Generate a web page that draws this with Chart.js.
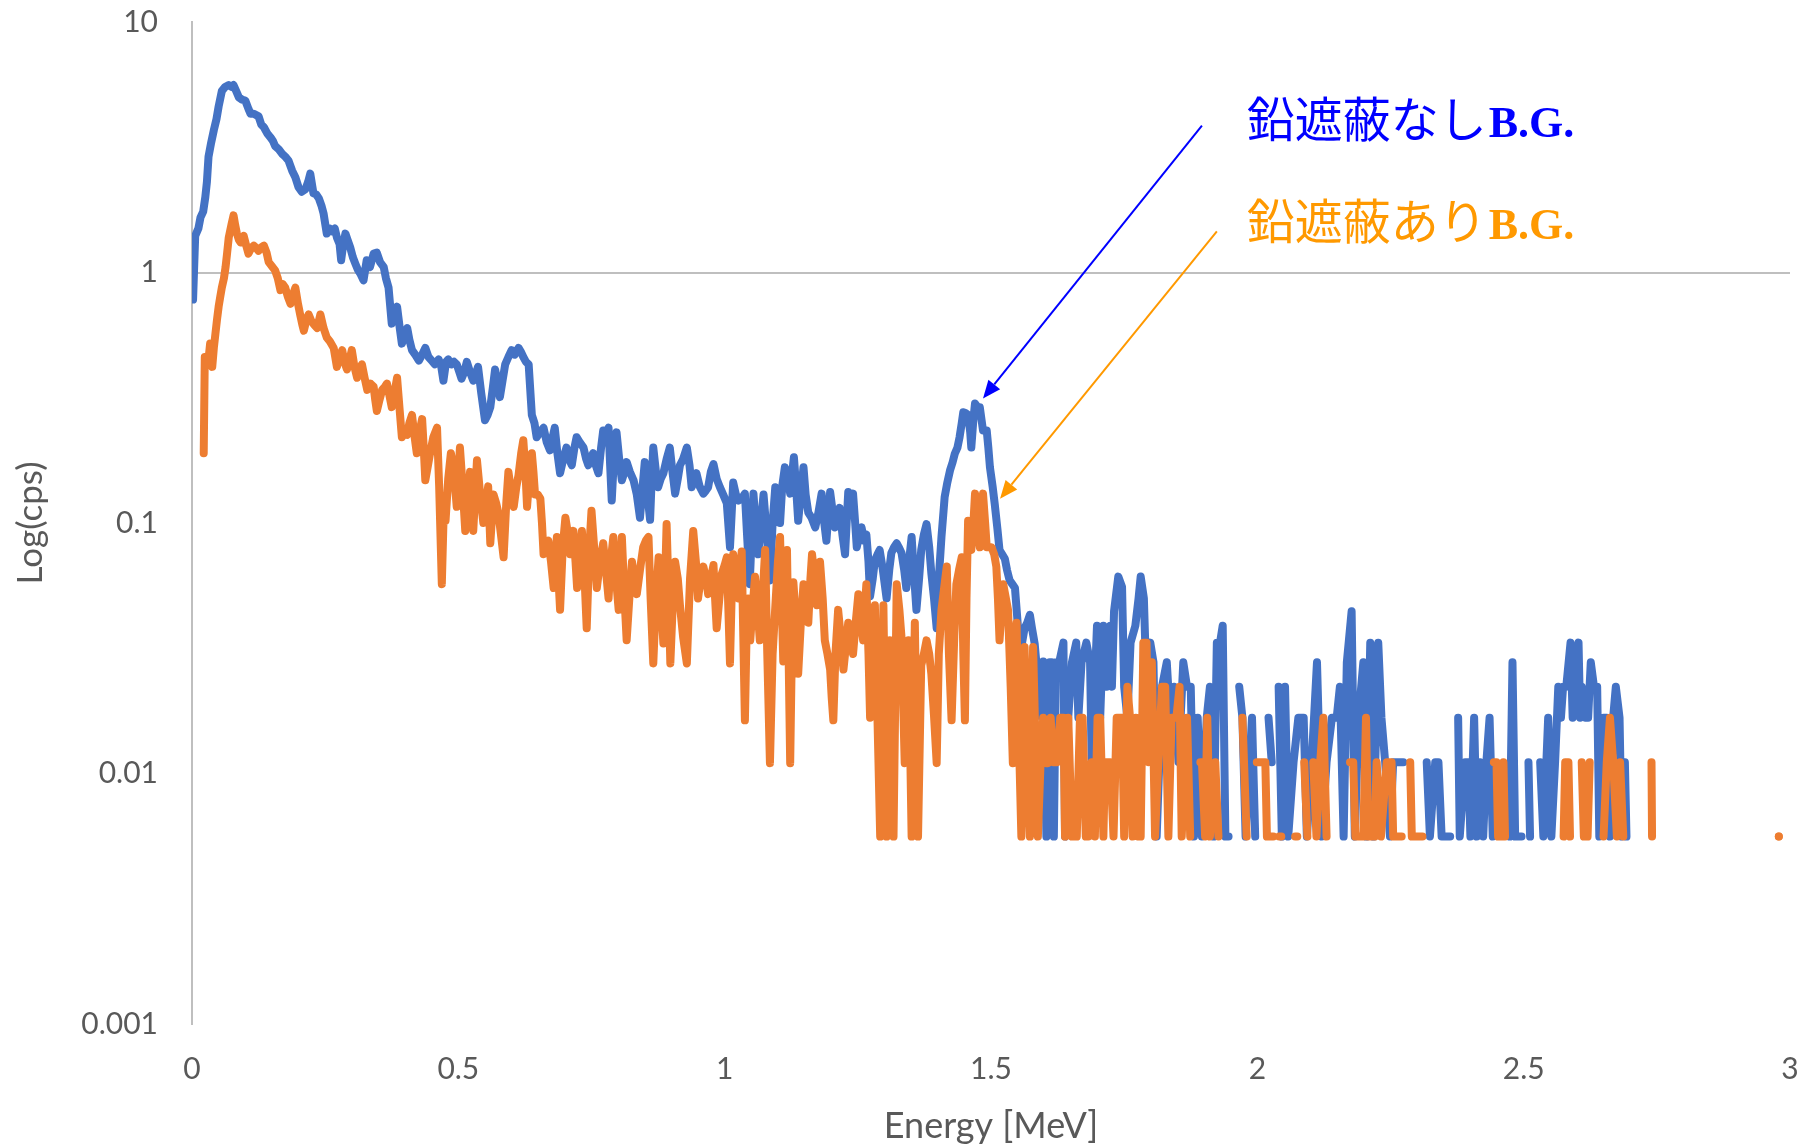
<!DOCTYPE html>
<html lang="ja">
<head>
<meta charset="utf-8">
<title>Background spectrum</title>
<script src="https://cdn.jsdelivr.net/npm/chart.js@4/dist/chart.umd.min.js"></script>
<style>
  html, body { margin: 0; padding: 0; background: #ffffff; }
  #wrap { width: 1812px; height: 1148px; }
</style>
</head>
<body>
<div id="wrap"><canvas id="spectrum" width="1812" height="1148"></canvas></div>
<script>
// Y-axis decades and their labels
const yTickValues = [0.001, 0.01, 0.1, 1, 10];
const yTickLabels = ['0.001', '0.01', '0.1', '1', '10'];

// X-axis ticks (MeV)
const xTickValues = [0, 0.5, 1, 1.5, 2, 2.5, 3];

// Background spectrum without lead shielding: [energy MeV, cps]; null = no counts
const unshielded = [
[0.002,0.78],[0.006,1.40],[0.012,1.50],[0.016,1.66],[0.021,1.75],[0.025,2.0],[0.028,2.3],[0.031,2.9],[0.036,3.3],[0.041,3.7],[0.046,4.1],[0.050,4.6],[0.056,5.3],[0.062,5.5],[0.069,5.6],[0.075,5.5],[0.078,5.6],[0.083,5.3],[0.088,5.0],[0.094,4.9],[0.100,4.86],[0.106,4.5],[0.110,4.3],[0.116,4.3],[0.125,4.2],[0.130,3.9],[0.135,3.8],[0.141,3.6],[0.147,3.47],[0.152,3.35],[0.156,3.2],[0.163,3.1],[0.169,2.98],[0.175,2.9],[0.181,2.8],[0.188,2.55],[0.194,2.4],[0.200,2.19],[0.206,2.1],[0.213,2.15],[0.218,2.3],[0.222,2.48],[0.228,2.07],[0.233,2.05],[0.238,1.98],[0.243,1.85],[0.247,1.72],[0.253,1.43],[0.258,1.5],[0.263,1.46],[0.268,1.5],[0.272,1.38],[0.277,1.3],[0.280,1.12],[0.284,1.3],[0.288,1.43],[0.292,1.35],[0.297,1.26],[0.302,1.15],[0.307,1.08],[0.311,1.03],[0.316,0.99],[0.322,0.93],[0.328,1.12],[0.334,1.05],[0.341,1.19],[0.347,1.2],[0.353,1.1],[0.360,1.05],[0.364,0.95],[0.369,0.87],[0.375,0.625],[0.380,0.68],[0.385,0.73],[0.390,0.6],[0.394,0.52],[0.399,0.56],[0.404,0.6],[0.408,0.54],[0.413,0.49],[0.419,0.47],[0.426,0.445],[0.432,0.47],[0.438,0.50],[0.444,0.46],[0.450,0.445],[0.456,0.43],[0.463,0.45],[0.468,0.42],[0.472,0.37],[0.477,0.44],[0.481,0.45],[0.487,0.43],[0.492,0.44],[0.497,0.43],[0.502,0.40],[0.506,0.377],[0.511,0.40],[0.516,0.44],[0.522,0.40],[0.528,0.37],[0.532,0.39],[0.537,0.42],[0.543,0.33],[0.550,0.257],[0.555,0.27],[0.560,0.29],[0.565,0.35],[0.569,0.41],[0.574,0.36],[0.578,0.318],[0.583,0.37],[0.588,0.43],[0.594,0.46],[0.600,0.49],[0.606,0.47],[0.613,0.50],[0.618,0.48],[0.622,0.46],[0.627,0.44],[0.632,0.43],[0.638,0.27],[0.643,0.25],[0.647,0.22],[0.653,0.23],[0.660,0.24],[0.666,0.21],[0.672,0.195],[0.677,0.22],[0.681,0.24],[0.686,0.19],[0.691,0.158],[0.697,0.18],[0.703,0.20],[0.708,0.18],[0.713,0.17],[0.718,0.2],[0.722,0.22],[0.728,0.21],[0.735,0.20],[0.740,0.18],[0.744,0.17],[0.748,0.18],[0.753,0.19],[0.758,0.17],[0.763,0.158],[0.768,0.2],[0.772,0.234],[0.777,0.23],[0.782,0.24],[0.785,0.17],[0.788,0.123],[0.792,0.18],[0.797,0.23],[0.802,0.18],[0.807,0.148],[0.812,0.16],[0.816,0.175],[0.822,0.16],[0.829,0.148],[0.835,0.13],[0.841,0.105],[0.846,0.14],[0.850,0.175],[0.855,0.13],[0.860,0.103],[0.863,0.15],[0.866,0.20],[0.871,0.16],[0.875,0.139],[0.880,0.15],[0.885,0.158],[0.891,0.18],[0.897,0.20],[0.902,0.16],[0.907,0.131],[0.912,0.15],[0.916,0.17],[0.922,0.18],[0.929,0.20],[0.934,0.17],[0.938,0.139],[0.943,0.15],[0.947,0.158],[0.953,0.14],[0.960,0.131],[0.965,0.135],[0.969,0.139],[0.974,0.16],[0.979,0.172],[0.985,0.15],[0.991,0.139],[0.997,0.13],[1.004,0.12],[1.010,0.08],[1.016,0.145],[1.021,0.13],[1.026,0.123],[1.032,0.125],[1.038,0.131],[1.042,0.09],[1.047,0.057],[1.054,0.131],[1.058,0.1],[1.063,0.075],[1.068,0.1],[1.073,0.13],[1.079,0.09],[1.085,0.059],[1.090,0.1],[1.095,0.139],[1.100,0.12],[1.104,0.1],[1.108,0.14],[1.113,0.167],[1.118,0.15],[1.123,0.131],[1.127,0.16],[1.130,0.183],[1.134,0.14],[1.138,0.102],[1.143,0.13],[1.148,0.167],[1.152,0.13],[1.157,0.11],[1.163,0.105],[1.170,0.096],[1.176,0.11],[1.182,0.131],[1.187,0.1],[1.191,0.085],[1.195,0.11],[1.198,0.133],[1.203,0.11],[1.207,0.096],[1.212,0.105],[1.216,0.115],[1.221,0.09],[1.226,0.075],[1.229,0.1],[1.232,0.133],[1.237,0.12],[1.241,0.131],[1.245,0.1],[1.248,0.08],[1.253,0.09],[1.257,0.096],[1.262,0.085],[1.266,0.09],[1.270,0.07],[1.273,0.051],[1.278,0.06],[1.282,0.071],[1.287,0.075],[1.291,0.078],[1.297,0.065],[1.304,0.05],[1.309,0.065],[1.313,0.076],[1.318,0.08],[1.323,0.083],[1.327,0.08],[1.332,0.076],[1.337,0.065],[1.341,0.055],[1.346,0.07],[1.351,0.088],[1.356,0.06],[1.360,0.045],[1.365,0.06],[1.369,0.078],[1.374,0.09],[1.379,0.099],[1.384,0.08],[1.388,0.063],[1.393,0.05],[1.398,0.038],[1.402,0.06],[1.407,0.088],[1.413,0.127],[1.418,0.145],[1.423,0.162],[1.428,0.175],[1.432,0.189],[1.437,0.2],[1.441,0.22],[1.445,0.25],[1.448,0.277],[1.452,0.275],[1.457,0.27],[1.461,0.23],[1.463,0.2],[1.467,0.26],[1.470,0.30],[1.475,0.29],[1.479,0.29],[1.482,0.26],[1.485,0.234],[1.492,0.234],[1.495,0.2],[1.498,0.167],[1.503,0.14],[1.507,0.119],[1.512,0.095],[1.516,0.078],[1.521,0.075],[1.526,0.072],[1.530,0.065],[1.535,0.059],[1.540,0.057],[1.545,0.055],[1.550,0.04],[1.554,0.029],[1.558,0.033],[1.563,0.038],[1.568,0.04],[1.573,0.043],[1.577,0.038],[1.582,0.033],[1.587,0.025],[1.591,0.017],[1.595,0.022],[1.598,0.028],[1.604,0.0056],[1.610,0.0278],[1.614,0.0278],[1.618,0.0056],[1.622,0.0278],[1.628,0.0278],[1.636,0.0333],[1.639,0.0056],[1.645,0.0167],[1.652,0.0278],[1.660,0.0333],[1.664,0.0167],[1.670,0.0278],[1.679,0.0333],[1.686,0.0278],[1.689,0.0111],[1.699,0.0389],[1.705,0.0167],[1.711,0.0389],[1.717,0.0222],[1.724,0.0389],[1.727,0.0222],[1.731,0.0444],[1.739,0.0611],[1.746,0.0556],[1.750,0.0222],[1.756,0.0167],[1.762,0.0333],[1.771,0.0389],[1.777,0.05],[1.781,0.0611],[1.787,0.05],[1.792,0.0222],[1.799,0.0333],[1.805,0.0278],[1.811,0.0056],[1.821,0.0222],[1.830,0.0278],[1.836,0.0167],[1.844,0.0222],[1.852,0.0111],[1.861,0.0278],[1.868,0.0222],[1.875,0.0222],[1.881,0.0056],[1.888,0.0167],[1.896,0.0056],[1.905,0.0167],[1.911,0.0222],[1.918,0.0056],[1.924,0.0333],[1.930,0.0333],[1.935,0.0389],[1.940,0.0056],[1.946,0.0056],[1.955,null],[1.966,0.0222],[1.972,0.0167],[1.978,0.0056],[1.990,0.0167],[1.996,0.0056],[2.008,null],[2.021,0.0167],[2.027,0.0111],[2.033,null],[2.040,0.0222],[2.046,0.0056],[2.052,0.0222],[2.058,0.0056],[2.068,0.0111],[2.077,0.0167],[2.087,0.0167],[2.093,0.0056],[2.102,0.0111],[2.112,0.0278],[2.121,0.0056],[2.130,0.0111],[2.140,0.0167],[2.149,0.0167],[2.155,0.0222],[2.162,0.0056],[2.168,0.0278],[2.177,0.0444],[2.183,0.0056],[2.190,0.0167],[2.199,0.0278],[2.205,0.0056],[2.212,0.0333],[2.218,0.0056],[2.227,0.0333],[2.233,0.0167],[2.240,0.0111],[2.249,0.0056],[2.255,0.0111],[2.262,0.0111],[2.274,0.0111],[2.295,null],[2.318,0.0111],[2.324,0.0056],[2.334,0.0111],[2.340,0.0111],[2.346,0.0056],[2.362,0.0056],[2.370,null],[2.377,0.0167],[2.380,0.0056],[2.390,0.0111],[2.396,0.0111],[2.400,0.0056],[2.407,0.0167],[2.412,0.0056],[2.418,0.0111],[2.424,0.0056],[2.430,0.0111],[2.436,0.0167],[2.442,0.0056],[2.458,null],[2.474,0.0056],[2.479,0.0278],[2.484,0.0056],[2.496,0.0056],[2.502,null],[2.509,0.0111],[2.512,0.0056],[2.520,null],[2.531,0.0111],[2.537,0.0056],[2.546,0.0167],[2.552,0.0056],[2.559,0.0111],[2.565,0.0222],[2.570,0.0167],[2.574,0.0222],[2.580,0.0222],[2.588,0.0333],[2.592,0.0167],[2.595,0.0222],[2.603,0.0333],[2.606,0.0167],[2.609,0.0222],[2.615,0.0167],[2.621,0.0167],[2.626,0.0278],[2.632,0.0222],[2.638,0.0222],[2.642,0.0056],[2.650,0.0167],[2.656,0.0167],[2.662,0.0056],[2.668,0.0167],[2.673,0.0222],[2.680,0.0167],[2.684,0.0056],[2.690,0.0111],[2.693,0.0056]
];

// Background spectrum with lead shielding: [energy MeV, cps]; null = no counts
const shielded = [
[0.022,0.19],[0.024,0.46],[0.028,0.44],[0.031,0.45],[0.034,0.52],[0.038,0.42],[0.041,0.5],[0.044,0.57],[0.047,0.65],[0.050,0.73],[0.053,0.8],[0.056,0.87],[0.060,0.95],[0.063,1.05],[0.066,1.2],[0.069,1.38],[0.074,1.55],[0.078,1.69],[0.081,1.55],[0.084,1.44],[0.088,1.35],[0.091,1.32],[0.094,1.38],[0.097,1.40],[0.101,1.3],[0.106,1.19],[0.111,1.25],[0.116,1.28],[0.121,1.25],[0.125,1.22],[0.130,1.26],[0.135,1.28],[0.140,1.2],[0.144,1.10],[0.150,1.06],[0.156,1.02],[0.161,0.95],[0.166,0.85],[0.170,0.9],[0.175,0.87],[0.180,0.8],[0.185,0.75],[0.190,0.82],[0.194,0.87],[0.199,0.75],[0.203,0.68],[0.207,0.62],[0.210,0.586],[0.215,0.65],[0.219,0.68],[0.224,0.64],[0.229,0.62],[0.235,0.60],[0.241,0.68],[0.247,0.6],[0.253,0.55],[0.259,0.53],[0.266,0.50],[0.272,0.42],[0.277,0.46],[0.282,0.49],[0.286,0.44],[0.291,0.41],[0.296,0.45],[0.300,0.49],[0.305,0.42],[0.310,0.38],[0.315,0.41],[0.319,0.43],[0.324,0.38],[0.329,0.34],[0.335,0.36],[0.341,0.35],[0.344,0.31],[0.347,0.28],[0.352,0.31],[0.357,0.34],[0.362,0.35],[0.366,0.36],[0.371,0.32],[0.375,0.29],[0.380,0.33],[0.385,0.38],[0.390,0.28],[0.394,0.22],[0.399,0.23],[0.404,0.225],[0.408,0.25],[0.413,0.27],[0.418,0.22],[0.422,0.19],[0.427,0.23],[0.432,0.26],[0.435,0.2],[0.438,0.148],[0.443,0.17],[0.447,0.19],[0.453,0.22],[0.460,0.24],[0.464,0.14],[0.469,0.057],[0.473,0.12],[0.476,0.102],[0.481,0.15],[0.486,0.19],[0.491,0.167],[0.497,0.116],[0.503,0.20],[0.508,0.14],[0.513,0.093],[0.518,0.13],[0.522,0.16],[0.528,0.093],[0.535,0.178],[0.541,0.13],[0.547,0.10],[0.552,0.12],[0.556,0.14],[0.560,0.083],[0.566,0.13],[0.571,0.12],[0.575,0.11],[0.580,0.09],[0.585,0.073],[0.590,0.12],[0.594,0.16],[0.600,0.13],[0.604,0.116],[0.609,0.14],[0.613,0.155],[0.618,0.19],[0.622,0.214],[0.626,0.16],[0.629,0.116],[0.634,0.16],[0.638,0.19],[0.641,0.16],[0.644,0.13],[0.649,0.13],[0.654,0.125],[0.657,0.1],[0.660,0.075],[0.665,0.08],[0.669,0.085],[0.674,0.07],[0.679,0.055],[0.685,0.088],[0.688,0.06],[0.691,0.045],[0.696,0.08],[0.701,0.105],[0.706,0.09],[0.710,0.075],[0.716,0.093],[0.720,0.07],[0.723,0.055],[0.728,0.075],[0.732,0.093],[0.737,0.06],[0.741,0.038],[0.746,0.08],[0.750,0.112],[0.755,0.08],[0.760,0.055],[0.766,0.07],[0.772,0.083],[0.777,0.065],[0.782,0.05],[0.786,0.07],[0.791,0.088],[0.796,0.06],[0.801,0.045],[0.807,0.088],[0.812,0.05],[0.816,0.034],[0.821,0.05],[0.826,0.07],[0.830,0.06],[0.835,0.052],[0.841,0.065],[0.847,0.08],[0.852,0.085],[0.857,0.088],[0.861,0.05],[0.866,0.0275],[0.871,0.05],[0.876,0.073],[0.880,0.05],[0.885,0.033],[0.891,0.099],[0.895,0.05],[0.898,0.0275],[0.903,0.05],[0.907,0.07],[0.912,0.06],[0.916,0.047],[0.922,0.035],[0.929,0.0275],[0.935,0.06],[0.941,0.093],[0.946,0.07],[0.950,0.05],[0.955,0.06],[0.960,0.067],[0.965,0.06],[0.969,0.052],[0.974,0.06],[0.979,0.068],[0.982,0.05],[0.985,0.038],[0.990,0.05],[0.994,0.062],[1.000,0.068],[1.004,0.073],[1.007,0.045],[1.010,0.0275],[1.013,0.05],[1.016,0.075],[1.021,0.06],[1.026,0.05],[1.029,0.065],[1.032,0.077],[1.035,0.035],[1.038,0.0163],[1.041,0.035],[1.044,0.05],[1.048,0.034],[1.052,0.045],[1.057,0.061],[1.062,0.045],[1.066,0.034],[1.071,0.05],[1.076,0.078],[1.080,0.03],[1.085,0.011],[1.090,0.03],[1.095,0.046],[1.100,0.07],[1.104,0.088],[1.107,0.05],[1.110,0.028],[1.114,0.05],[1.117,0.078],[1.120,0.03],[1.123,0.011],[1.126,0.03],[1.129,0.058],[1.134,0.04],[1.138,0.025],[1.143,0.04],[1.148,0.057],[1.152,0.05],[1.157,0.04],[1.161,0.06],[1.164,0.075],[1.169,0.06],[1.173,0.047],[1.176,0.06],[1.179,0.07],[1.184,0.05],[1.188,0.034],[1.193,0.03],[1.198,0.026],[1.201,0.02],[1.204,0.0163],[1.208,0.03],[1.213,0.045],[1.218,0.035],[1.223,0.026],[1.228,0.033],[1.232,0.04],[1.237,0.035],[1.241,0.03],[1.246,0.04],[1.251,0.052],[1.256,0.04],[1.260,0.034],[1.263,0.045],[1.266,0.057],[1.270,0.03],[1.273,0.0167],[1.278,0.03],[1.282,0.047],[1.292,0.0056],[1.298,0.047],[1.304,0.0056],[1.310,0.034],[1.317,0.0056],[1.323,0.057],[1.328,0.045],[1.332,0.035],[1.338,0.011],[1.345,0.034],[1.351,0.0056],[1.357,0.04],[1.363,0.0056],[1.369,0.027],[1.374,0.03],[1.379,0.034],[1.384,0.03],[1.388,0.025],[1.393,0.017],[1.398,0.011],[1.402,0.03],[1.407,0.045],[1.412,0.055],[1.417,0.067],[1.421,0.03],[1.426,0.0163],[1.431,0.035],[1.435,0.057],[1.440,0.065],[1.445,0.073],[1.448,0.03],[1.451,0.0163],[1.454,0.05],[1.457,0.102],[1.460,0.09],[1.463,0.078],[1.467,0.1],[1.470,0.131],[1.475,0.1],[1.479,0.08],[1.482,0.1],[1.485,0.131],[1.489,0.1],[1.492,0.08],[1.501,0.08],[1.506,0.075],[1.510,0.067],[1.513,0.05],[1.516,0.034],[1.520,0.045],[1.523,0.057],[1.528,0.05],[1.532,0.045],[1.537,0.022],[1.541,0.011],[1.544,0.025],[1.548,0.04],[1.552,0.015],[1.557,0.0056],[1.563,0.032],[1.568,0.012],[1.573,0.0056],[1.579,0.032],[1.584,0.012],[1.588,0.0056],[1.593,0.011],[1.598,0.0167],[1.603,0.011],[1.607,0.011],[1.612,0.0167],[1.617,0.0111],[1.624,0.0111],[1.630,0.0167],[1.636,0.0167],[1.639,0.0056],[1.645,0.0167],[1.652,0.0056],[1.661,0.0056],[1.667,0.0167],[1.672,0.0167],[1.678,0.0056],[1.683,0.0056],[1.689,0.0111],[1.695,0.0056],[1.700,0.0167],[1.705,0.0167],[1.711,0.0056],[1.714,0.0111],[1.724,0.0111],[1.730,0.0056],[1.736,0.0167],[1.746,0.0167],[1.750,0.0056],[1.756,0.0222],[1.761,0.0167],[1.766,0.0056],[1.772,0.0167],[1.777,0.0056],[1.781,0.0056],[1.786,0.0333],[1.792,0.0333],[1.796,0.0111],[1.802,0.0278],[1.808,0.0056],[1.814,0.0111],[1.821,0.0222],[1.827,0.0222],[1.833,0.0056],[1.839,0.0167],[1.848,0.0167],[1.854,0.0222],[1.858,0.0056],[1.868,0.0167],[1.874,0.0056],[1.884,null],[1.893,0.0111],[1.896,0.0111],[1.902,0.0056],[1.906,0.0167],[1.911,0.0056],[1.921,0.0111],[1.927,0.0056],[1.950,null],[1.972,0.0167],[1.980,0.0056],[1.990,null],[1.999,0.0111],[2.008,0.0111],[2.015,0.0111],[2.018,0.0056],[2.030,0.0056],[2.036,null],[2.041,0.0056],[2.045,0.0056],[2.058,null],[2.071,0.0056],[2.075,0.0056],[2.082,null],[2.088,0.0111],[2.094,0.0056],[2.100,null],[2.105,0.0111],[2.111,0.0056],[2.118,0.0111],[2.124,0.0167],[2.130,0.0056],[2.150,null],[2.174,0.0111],[2.180,0.0111],[2.184,0.0056],[2.199,0.0056],[2.204,0.0167],[2.208,0.0056],[2.220,0.0056],[2.224,0.0111],[2.232,0.0056],[2.243,0.0111],[2.252,0.0111],[2.255,0.0056],[2.271,0.0056],[2.280,null],[2.287,0.0111],[2.290,0.0056],[2.310,0.0056],[2.380,null],[2.444,0.0111],[2.449,0.0111],[2.452,0.0056],[2.458,0.0056],[2.462,0.0111],[2.465,0.0056],[2.520,null],[2.575,0.0056],[2.578,0.0111],[2.584,0.0111],[2.587,0.0056],[2.598,null],[2.609,0.0111],[2.613,0.0056],[2.620,0.0056],[2.624,0.0111],[2.637,null],[2.650,0.0056],[2.656,0.0111],[2.662,0.0167],[2.668,0.0111],[2.675,0.0056],[2.681,0.0111],[2.687,0.0056],[2.710,null],[2.740,0.0111],[2.741,0.0056],[2.860,null],[2.979,0.0056]
];

// Callout labels with arrows pointing at the 1.46 MeV (K-40) peak, in axis units
const callouts = [
  { label: '鉛遮蔽なし', suffix: 'B.G.', color: '#0000FF', at: [1.98, 3.46], from: [1.896, 3.86], to: [1.485, 0.314] },
  { label: '鉛遮蔽あり', suffix: 'B.G.', color: '#FF9900', at: [1.98, 1.355], from: [1.924, 1.46], to: [1.517, 0.125] }
];

const toPoints = rows => rows.map(([e, v]) => ({ x: e, y: v }));

// A point with no drawn neighbours becomes a dot, as a lone channel count.
const loneDot = ctx => {
  const d = ctx.dataset.data, i = ctx.dataIndex;
  if (!d[i] || d[i].y == null) return 0;
  const prev = d[i - 1], next = d[i + 1];
  return ((!prev || prev.y == null) && (!next || next.y == null)) ? 4 : 0;
};

const calloutPlugin = {
  id: 'callouts',
  afterDatasetsDraw(chart) {
    const { ctx, scales: { x, y } } = chart;
    callouts.forEach(c => {
      const x0 = x.getPixelForValue(c.from[0]), y0 = y.getPixelForValue(c.from[1]);
      const x1 = x.getPixelForValue(c.to[0]), y1 = y.getPixelForValue(c.to[1]);
      const ang = Math.atan2(y1 - y0, x1 - x0);
      const headLen = 18, headHalf = 7.5;
      const bx = x1 - headLen * Math.cos(ang), by = y1 - headLen * Math.sin(ang);
      ctx.save();
      ctx.strokeStyle = c.color;
      ctx.fillStyle = c.color;
      ctx.lineWidth = 2;
      ctx.beginPath();
      ctx.moveTo(x0, y0);
      ctx.lineTo(bx, by);
      ctx.stroke();
      ctx.beginPath();
      ctx.moveTo(x1, y1);
      ctx.lineTo(bx + headHalf * Math.sin(ang), by - headHalf * Math.cos(ang));
      ctx.lineTo(bx - headHalf * Math.sin(ang), by + headHalf * Math.cos(ang));
      ctx.closePath();
      ctx.fill();

      const tx = x.getPixelForValue(c.at[0]), ty = y.getPixelForValue(c.at[1]);
      ctx.textBaseline = 'alphabetic';
      ctx.textAlign = 'left';
      ctx.font = '48px "Noto Sans CJK JP"';
      ctx.fillText(c.label, tx, ty);
      const w = ctx.measureText(c.label).width;
      ctx.font = 'bold 44px "Liberation Serif"';
      ctx.fillText(c.suffix, tx + w + 2, ty);
      ctx.restore();
    });
  }
};

const axisGrey = '#BFBFBF';
const textGrey = '#595959';
const clear = 'rgba(0,0,0,0)';

new Chart(document.getElementById('spectrum'), {
  type: 'line',
  data: {
    datasets: [
      {
        label: '鉛遮蔽あり B.G.',
        data: toPoints(shielded),
        borderColor: '#ED7D31',
        backgroundColor: '#ED7D31',
        borderWidth: 8,
        pointRadius: loneDot,
        pointBorderWidth: 0,
        spanGaps: false,
        order: 0
      },
      {
        label: '鉛遮蔽なし B.G.',
        data: toPoints(unshielded),
        borderColor: '#4472C4',
        backgroundColor: '#4472C4',
        borderWidth: 8,
        pointRadius: loneDot,
        pointBorderWidth: 0,
        spanGaps: false,
        order: 1
      }
    ]
  },
  options: {
    responsive: false,
    devicePixelRatio: 1,
    animation: false,
    layout: { autoPadding: false, padding: { top: 22, right: 22, left: 0, bottom: 0 } },
    elements: {
      line: { tension: 0, borderJoinStyle: 'round', borderCapStyle: 'round', fill: false },
      point: { hoverRadius: 0 }
    },
    plugins: {
      legend: { display: false },
      title: { display: false },
      tooltip: { enabled: false }
    },
    scales: {
      x: {
        type: 'linear',
        min: 0,
        max: 3,
        afterBuildTicks: s => { s.ticks = xTickValues.map(v => ({ value: v })); },
        afterFit: s => { s.height = 124; },
        // invisible tick marks keep the labels clear of the plot without extra layout padding
        grid: { display: true, drawOnChartArea: false, drawTicks: true, tickLength: 23, tickColor: clear, color: clear },
        border: { display: false },
        ticks: {
          color: textGrey,
          font: { family: 'Lato', size: 30 },
          padding: 4,
          maxRotation: 0,
          autoSkip: false,
          callback: v => String(v)
        },
        title: {
          display: true,
          text: 'Energy [MeV]',
          color: textGrey,
          font: { family: 'Lato', size: 36 },
          padding: { top: 0, bottom: 0 }
        }
      },
      y: {
        type: 'logarithmic',
        min: 0.001,
        max: 10,
        afterBuildTicks: s => { s.ticks = yTickValues.map(v => ({ value: v })); },
        afterFit: s => { s.width = 192; },
        grid: {
          drawTicks: true,
          tickLength: 30,
          tickColor: clear,
          lineWidth: 2,
          color: ctx => (ctx.tick && ctx.tick.value === 1) ? axisGrey : clear
        },
        border: { display: true, color: axisGrey, width: 2 },
        ticks: {
          color: textGrey,
          font: { family: 'Lato', size: 30 },
          padding: 4,
          autoSkip: false,
          callback: v => yTickLabels[yTickValues.indexOf(v)] ?? ''
        },
        title: {
          display: true,
          text: 'Log(cps)',
          color: textGrey,
          font: { family: 'Lato', size: 35 },
          padding: { top: 10, bottom: 0 }
        }
      }
    }
  },
  plugins: [calloutPlugin]
});
</script>
</body>
</html>
